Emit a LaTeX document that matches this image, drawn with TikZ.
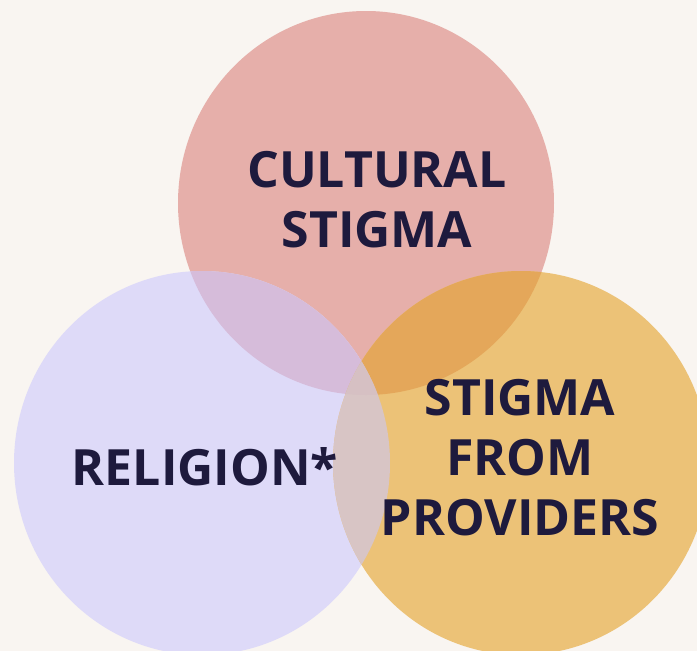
\documentclass[tikz,border=0pt]{standalone}
\usepackage{fontspec}
\setmainfont{Open Sans}
\definecolor{paper}{HTML}{F9F5F1}
\definecolor{ink}{HTML}{1E1A3D}
\definecolor{culture}{HTML}{E6AFAA}
\definecolor{faith}{HTML}{DEDAF8}
\definecolor{provider}{HTML}{ECC277}
\definecolor{culturefaith}{HTML}{D6BCDA}
\definecolor{cultureprovider}{HTML}{E4A75A}
\definecolor{faithprovider}{HTML}{D8C5C5}
\definecolor{allthree}{HTML}{D6C0C3}
\tikzset{
	label/.style={text=ink, font=\bfseries\fontsize{50}{60}\selectfont, align=center, inner sep=0pt},
}
\newcommand{\culturering}{(366,203) ellipse [x radius=188, y radius=192]}
\newcommand{\faithring}{(202,463) ellipse [x radius=188, y radius=192]}
\newcommand{\providerring}{(521,463) ellipse [x radius=188, y radius=192]}

\begin{document}
\begin{tikzpicture}[x=1pt,y=-1pt]
	% Background
	\fill[paper] (0,0) rectangle (697,651);
	\useasboundingbox (0,0) rectangle (697,651);
	\clip (0,0) rectangle (697,651);
	% Circles
	\fill[culture] \culturering;
	\fill[faith] \faithring;
	\fill[provider] \providerring;
	% Overlaps
	\begin{scope}
		\clip \culturering;
		\fill[culturefaith] \faithring;
		\fill[cultureprovider] \providerring;
	\end{scope}
	\begin{scope}
		\clip \faithring;
		\fill[faithprovider] \providerring;
	\end{scope}
	\begin{scope}
		\clip \culturering;
		\clip \faithring;
		\fill[allthree] \providerring;
	\end{scope}
	% Labels (base = last line)
	\node[label, anchor=base] (cultural) at (377,247) {CULTURAL\\STIGMA};
	\node[label, anchor=base] (religion) at (205,485) {RELIGION*};
	\node[label, anchor=base] (providers) at (520,535) {STIGMA\\FROM\\PROVIDERS};
\end{tikzpicture}
\end{document}
